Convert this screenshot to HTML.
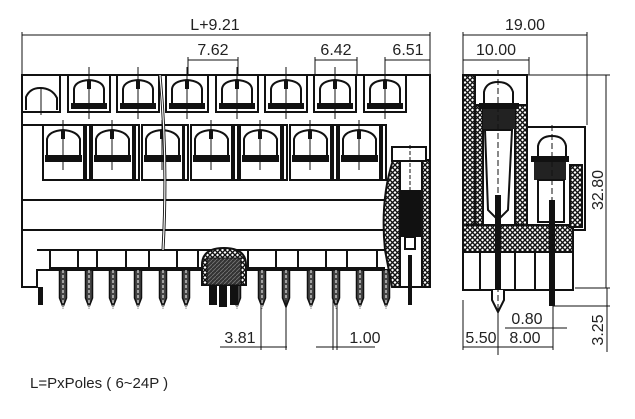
<!DOCTYPE html>
<html><head><meta charset="utf-8"><style>
html,body{margin:0;padding:0;background:#fff;width:635px;height:419px;overflow:hidden}
svg{display:block}
text{font-family:"Liberation Sans",sans-serif;fill:#222}
</style></head><body>
<svg width="635" height="419" viewBox="0 0 635 419" xmlns="http://www.w3.org/2000/svg">
<defs>
<pattern id="x" width="5" height="5" patternUnits="userSpaceOnUse">
<rect width="5" height="5" fill="#fff"/><path d="M0 0L5 5M5 0L0 5" stroke="#111" stroke-width="1.4"/>
</pattern>
<pattern id="d" width="4" height="4" patternUnits="userSpaceOnUse">
<rect width="4" height="4" fill="#333"/><path d="M0 4L4 0" stroke="#777" stroke-width="0.8"/>
</pattern>
<g id="c1">
<rect x="0" y="0" width="42" height="37" fill="#fff" stroke="#111" stroke-width="2"/>
<path d="M6 28 L6 14 Q7 6 21 5 Q35 6 36 14 L36 28" fill="none" stroke="#111" stroke-width="2"/>
<rect x="3" y="28" width="36" height="6" fill="#111"/>
<line x1="21" y1="-8" x2="21" y2="44" stroke="#111" stroke-width="1"/>
<rect x="19" y="5" width="4" height="9" fill="#111"/>
</g>
<g id="c2">
<rect x="0" y="0" width="41" height="55" fill="#fff" stroke="#111" stroke-width="2"/>
<path d="M4 30 L4 14 Q6 6 20 5 Q34 6 37 14 L37 30" fill="none" stroke="#111" stroke-width="2"/>
<rect x="2" y="30" width="37" height="7" fill="#111"/>
<line x1="20" y1="-5" x2="20" y2="45" stroke="#111" stroke-width="1"/>
<rect x="18" y="5" width="4" height="9" fill="#111"/>
</g>
<g id="pin">
<path d="M-3.5 0 L-3.5 28 L0 37 L3.5 28 L3.5 0 Z" fill="#444" stroke="#111" stroke-width="1.5"/>
<line x1="0" y1="0" x2="0" y2="40" stroke="#fff" stroke-width="1" stroke-dasharray="3 2"/>
</g>
</defs>

<g stroke="#111" stroke-width="1" fill="none">
<line x1="22" y1="35" x2="430" y2="35"/><line x1="22" y1="32" x2="22" y2="75"/><line x1="430" y1="32" x2="430" y2="75"/>
<line x1="188" y1="60" x2="238" y2="60"/><line x1="188" y1="57" x2="188" y2="78"/><line x1="238" y1="57" x2="238" y2="78"/>
<line x1="315" y1="60" x2="357" y2="60"/><line x1="315" y1="57" x2="315" y2="78"/><line x1="357" y1="57" x2="357" y2="78"/>
<line x1="385" y1="60" x2="430" y2="60"/><line x1="385" y1="57" x2="385" y2="78"/>
</g>
<text x="215" y="30" font-size="16" text-anchor="middle">L+9.21</text>
<text x="213" y="55" font-size="16" text-anchor="middle">7.62</text>
<text x="336" y="55" font-size="16" text-anchor="middle">6.42</text>
<text x="408" y="55" font-size="16" text-anchor="middle">6.51</text>

<g stroke="#111" stroke-width="2" fill="none">
<path d="M22 75 L430 75 L430 287 L395 287 L395 270 L37 270 L37 287 L22 287 Z" fill="#fff"/>
<line x1="22" y1="200" x2="385" y2="200"/>
<line x1="22" y1="230" x2="385" y2="230"/>
<path d="M22 125 L43 125 L43 180"/>
<path d="M37 250 L385 250"/>
<path d="M50 250 L50 270"/>
</g>
<rect x="22" y="75" width="38" height="37" fill="#fff" stroke="#111" stroke-width="2"/>
<path d="M26 110 L26 97 Q30 88 40 88 Q52 88 57 98 L57 110" fill="none" stroke="#111" stroke-width="2"/>
<line x1="41" y1="87" x2="41" y2="115" stroke="#111"/>
<use href="#c1" x="68" y="75"/><use href="#c1" x="117" y="75"/><use href="#c1" x="166" y="75"/>
<use href="#c1" x="216" y="75"/><use href="#c1" x="265" y="75"/><use href="#c1" x="314" y="75"/><use href="#c1" x="364" y="75"/>
<g stroke="#111" stroke-width="2" fill="#fff">
<rect x="86" y="125" width="4" height="55"/><rect x="135" y="125" width="4" height="55"/><rect x="184" y="125" width="4" height="55"/>
<rect x="234" y="125" width="4" height="55"/><rect x="283" y="125" width="4" height="55"/><rect x="333" y="125" width="4" height="55"/><rect x="382" y="125" width="4" height="55"/>
</g>
<use href="#c2" x="43" y="125"/><use href="#c2" x="92" y="125"/><use href="#c2" x="142" y="125"/>
<use href="#c2" x="191" y="125"/><use href="#c2" x="240" y="125"/><use href="#c2" x="290" y="125"/><use href="#c2" x="339" y="125"/>
<g stroke="#111" stroke-width="2" fill="none">
<path d="M50 268 L385 268"/>
<line x1="78" y1="250" x2="78" y2="268"/><line x1="97" y1="250" x2="97" y2="268"/><line x1="126" y1="250" x2="126" y2="268"/>
<line x1="149" y1="250" x2="149" y2="268"/><line x1="177" y1="250" x2="177" y2="268"/><line x1="198" y1="250" x2="198" y2="268"/>
<line x1="248" y1="250" x2="248" y2="268"/><line x1="276" y1="250" x2="276" y2="268"/><line x1="298" y1="250" x2="298" y2="268"/>
<line x1="326" y1="250" x2="326" y2="268"/><line x1="347" y1="250" x2="347" y2="268"/><line x1="377" y1="250" x2="377" y2="268"/>
</g>
<rect x="38" y="287" width="5" height="18" fill="#111"/>
<use href="#pin" x="63" y="270"/><use href="#pin" x="89" y="270"/><use href="#pin" x="113" y="270"/><use href="#pin" x="138" y="270"/>
<use href="#pin" x="163" y="270"/><use href="#pin" x="186" y="270"/><use href="#pin" x="237" y="270"/><use href="#pin" x="262" y="270"/>
<use href="#pin" x="286" y="270"/><use href="#pin" x="311" y="270"/><use href="#pin" x="336" y="270"/><use href="#pin" x="360" y="270"/><use href="#pin" x="386" y="270"/>
<path d="M202 285 L202 265 Q202 248 224 248 Q246 248 246 265 L246 285 Z" fill="url(#x)" stroke="#111" stroke-width="2"/>
<rect x="207" y="258" width="34" height="27" fill="url(#d)" stroke="#111"/>
<rect x="209" y="285" width="8" height="20" fill="#111"/><rect x="219" y="285" width="8" height="22" fill="#111"/><rect x="230" y="285" width="8" height="20" fill="#111"/>
<path d="M160 75 Q168 160 163 250" fill="none" stroke="#111" stroke-width="3"/>
<path d="M160 75 Q168 160 163 250" fill="none" stroke="#fff" stroke-width="1.2"/>
<path d="M393 160 Q380 200 385 250 L392 287 L400 287 L400 160 Z" fill="url(#x)" stroke="#111" stroke-width="2"/>
<rect x="422" y="160" width="8" height="127" fill="url(#x)" stroke="#111" stroke-width="2"/>
<rect x="392" y="147" width="34" height="14" fill="#fff" stroke="#111" stroke-width="2"/>
<rect x="400" y="190" width="22" height="47" fill="#111"/>
<rect x="405" y="237" width="10" height="12" fill="#fff" stroke="#111" stroke-width="2"/>
<rect x="408" y="255" width="4" height="50" fill="#111"/>
<line x1="410" y1="145" x2="410" y2="190" stroke="#111" stroke-dasharray="4 2"/>

<g stroke="#111" stroke-width="1">
<line x1="261" y1="300" x2="261" y2="350"/><line x1="286" y1="300" x2="286" y2="350"/>
<line x1="220" y1="347" x2="287" y2="347"/>
<line x1="333" y1="300" x2="333" y2="350"/><line x1="337" y1="300" x2="337" y2="350"/>
<line x1="316" y1="347" x2="375" y2="347"/>
</g>
<text x="240" y="343" font-size="16" text-anchor="middle">3.81</text>
<text x="365" y="343" font-size="16" text-anchor="middle">1.00</text>

<g stroke="#111" stroke-width="1" fill="none">
<line x1="463" y1="35" x2="587" y2="35"/><line x1="463" y1="32" x2="463" y2="75"/><line x1="587" y1="32" x2="587" y2="125"/>
<line x1="463" y1="60" x2="529" y2="60"/><line x1="529" y1="57" x2="529" y2="75"/>
<line x1="527" y1="75" x2="610" y2="75"/><line x1="606" y1="75" x2="606" y2="288"/>
<line x1="575" y1="288" x2="610" y2="288"/><line x1="553" y1="306" x2="610" y2="306"/>
<line x1="607" y1="288" x2="607" y2="352"/>
<line x1="463" y1="300" x2="463" y2="350"/><line x1="498" y1="300" x2="498" y2="350"/><line x1="553" y1="300" x2="553" y2="350"/>
<line x1="463" y1="347" x2="553" y2="347"/>
<line x1="505" y1="328" x2="567" y2="328"/>
</g>
<text x="525" y="30" font-size="16" text-anchor="middle">19.00</text>
<text x="496" y="55" font-size="16" text-anchor="middle">10.00</text>
<text x="0" y="0" font-size="16" text-anchor="middle" transform="translate(603,190) rotate(-90)">32.80</text>
<text x="0" y="0" font-size="16" text-anchor="middle" transform="translate(603,330) rotate(-90)">3.25</text>
<text x="481" y="343" font-size="16" text-anchor="middle">5.50</text>
<text x="525" y="343" font-size="16" text-anchor="middle">8.00</text>
<text x="527" y="324" font-size="16" text-anchor="middle">0.80</text>

<g stroke="#111" stroke-width="2">
<path d="M463 75 L527 75 L527 127 L585 127 L585 230 L573 230 L573 290 L463 290 Z" fill="#fff"/>
<rect x="463" y="75" width="12" height="175" fill="url(#x)"/>
<rect x="475" y="105" width="8" height="120" fill="url(#x)"/>
<rect x="515" y="105" width="12" height="120" fill="url(#x)"/>
<rect x="463" y="225" width="110" height="27" fill="url(#x)"/>
<rect x="570" y="165" width="12" height="62" fill="url(#x)"/>
<line x1="463" y1="252" x2="573" y2="252"/>
<line x1="480" y1="252" x2="480" y2="290"/><line x1="515" y1="252" x2="515" y2="290"/><line x1="535" y1="252" x2="535" y2="290"/>
</g>
<path d="M484 103 L484 92 Q486 82 498 82 Q510 82 513 92 L513 103" fill="#fff" stroke="#111" stroke-width="2"/>
<rect x="479" y="103" width="40" height="6" fill="#111"/>
<rect x="483" y="109" width="32" height="20" fill="#222"/>
<path d="M485 130 L488 210 L498 220 L508 210 L512 130 Z" fill="#fff" stroke="#111" stroke-width="2"/>
<path d="M538 157 L538 146 Q540 136 552 136 Q564 136 566 146 L566 157" fill="#fff" stroke="#111" stroke-width="2"/>
<rect x="531" y="156" width="38" height="6" fill="#111"/>
<rect x="534" y="162" width="32" height="18" fill="#222"/>
<rect x="538" y="180" width="26" height="42" fill="#fff" stroke="#111" stroke-width="2"/>
<rect x="495" y="195" width="6" height="108" fill="#111"/>
<path d="M492 290 L492 300 L498 312 L504 300 L504 290" fill="#fff" stroke="#111" stroke-width="2"/>
<rect x="549" y="200" width="6" height="106" fill="#111"/>
<line x1="498" y1="70" x2="498" y2="355" stroke="#111" stroke-dasharray="6 3"/>
<line x1="552" y1="125" x2="552" y2="200" stroke="#111" stroke-dasharray="6 3"/>

<text x="30" y="388" font-size="15">L=PxPoles ( 6~24P )</text>
</svg>
</body></html>
